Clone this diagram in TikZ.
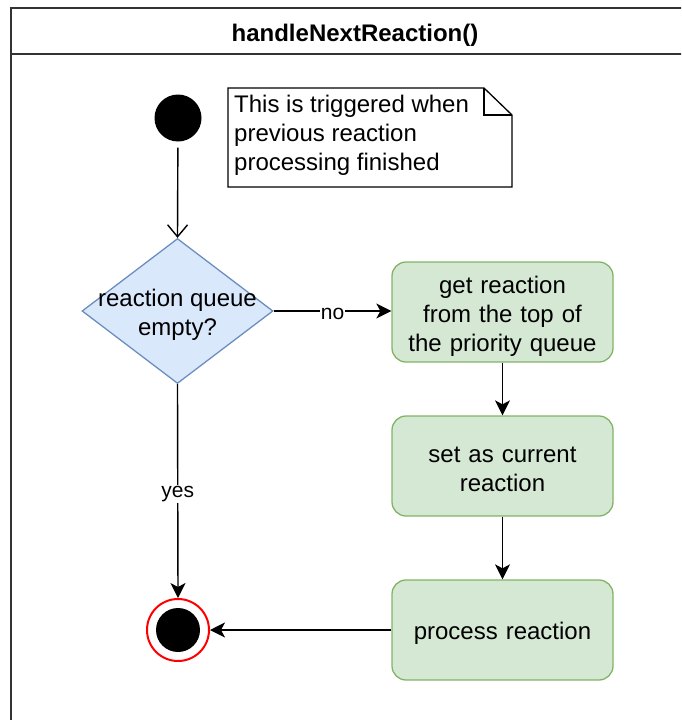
\documentclass[tikz,border=0pt]{standalone}
\usepackage{fontspec}
\setmainfont{Liberation Sans}
\usetikzlibrary{arrows.meta,shapes.geometric}

\definecolor{decfill}{HTML}{DAE8FC}
\definecolor{decline}{HTML}{6C8EBF}
\definecolor{actfill}{HTML}{D5E8D4}
\definecolor{actline}{HTML}{82B366}
\definecolor{frameline}{HTML}{333333}

\tikzset{
  bodytext/.style={font=\fontsize{24}{29}\selectfont, yshift=-3pt},
  labeltext/.style={font=\fontsize{21}{25}\selectfont, fill=white, inner sep=1pt, yshift=-3pt},
  action/.style={draw=actline, fill=actfill, line width=1.3pt, rounded corners=14pt,
    minimum width=221pt, minimum height=100pt},
  acttext/.style={bodytext, text width=215pt, align=center},
  decision/.style={diamond, draw=decline, fill=decfill, line width=1.3pt,
    minimum width=191pt, minimum height=145pt, inner sep=0pt, aspect=1.317},
  flow/.style={line width=1.4pt, -{Stealth[length=15pt, width=15pt, inset=4pt]}},
  openflow/.style={line width=1.4pt, -{Straight Barb[length=12pt, width=20pt, line width=1.4pt]}},
}

\begin{document}
\begin{tikzpicture}[x=1pt, y=-1pt]
\useasboundingbox (0,0) rectangle (681,720);
\clip (0,0) rectangle (681,720);

% frame with title compartment
\draw[frameline, line width=2pt] (11,8) rectangle (699,760);
\draw[frameline, line width=2pt] (11,54) -- (699,54);
\node[font=\bfseries\fontsize{24}{29}\selectfont] (title) at (355,35) {handleNextReaction()};

% initial node
\node[circle, fill=black, minimum size=47pt, inner sep=0pt] (start) at (178,118) {};

% comment note with folded corner
\draw[black, line width=1.3pt, fill=white]
  (228,88) -- (484,88) -- (512,115) -- (512,187) -- (228,187) -- cycle;
\draw[black, line width=1.3pt] (484,88) -- (484,115) -- (512,115);
\node[bodytext, anchor=west, align=left, inner sep=0pt, yshift=1pt] (note) at (234,133)
  {This is triggered when\\previous reaction\\processing finished};

% decision
\node[decision] (dec) at (177.5,311) {};
\node[bodytext, align=center, yshift=-1pt] (dectext) at (177.5,311) {reaction queue\\empty?};

% actions
\node[action] (get) at (502.5,312) {};
\node[acttext, yshift=-1pt] (gettext) at (get.center) {get reaction\\from the top of\\the priority queue};
\node[action] (set) at (502.5,466) {};
\node[acttext] (settext) at (set.center) {set as current\\reaction};
\node[action] (proc) at (502.5,630) {};
\node[acttext] (proctext) at (proc.center) {process reaction};

% final node
\node[circle, draw=red, line width=2pt, fill=white, minimum size=62pt, inner sep=0pt] (final) at (178,630) {};
\node[circle, fill=black, minimum size=44pt, inner sep=0pt] (finaldot) at (178,630) {};

% connectors
\draw[openflow, shorten <=6pt] (start) -- (dec.north);
\draw[flow] (dec.east) -- node[labeltext] {no} (dec.east -| get.west);
\draw[flow] (get.south) -- (set.north);
\draw[flow] (set.south) -- (proc.north);
\draw[flow] (proc.west) -- (final.east);
\draw[flow] (dec.south) -- node[labeltext, pos=0.5] {yes} (final.north);
\end{tikzpicture}
\end{document}
